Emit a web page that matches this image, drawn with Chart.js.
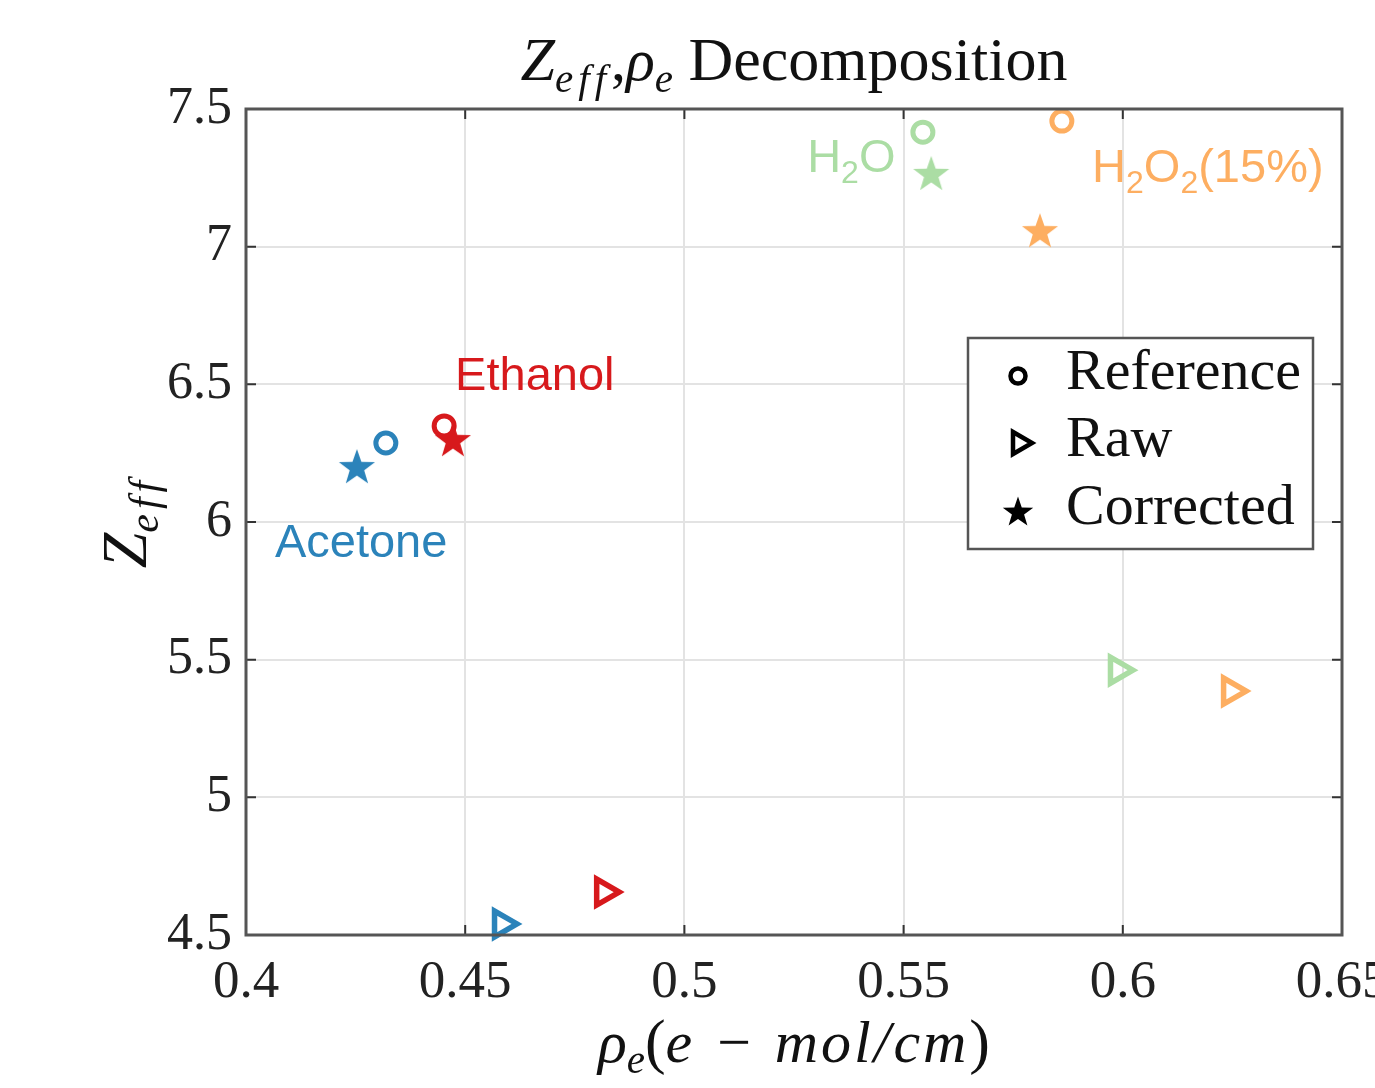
<!DOCTYPE html>
<html>
<head>
<meta charset="utf-8">
<script src="https://cdn.jsdelivr.net/npm/chart.js@4/dist/chart.umd.min.js"></script>
<style>
  html, body { margin: 0; padding: 0; background: #fff; overflow: hidden; }
  #wrap { width: 1375px; height: 1088px; overflow: hidden; }
</style>
</head>
<body>
<div id="wrap"><canvas id="grafico" width="1420" height="1088"></canvas></div>
<script>
// datos
const sustancias = ['Acetone', 'Ethanol', 'H2O', 'H2O2(15%)'];
const colores = ['#2b83ba', '#d7191c', '#abdda4', '#fdae61'];

const refRho = [0.4319, 0.4452, 0.5544, 0.5861];
const refZ   = [6.287, 6.349, 7.416, 7.456];
const rawRho = [0.4584, 0.4817, 0.5989, 0.6247];
const rawZ   = [4.540, 4.656, 5.462, 5.386];
const corRho = [0.4253, 0.4472, 0.5563, 0.5811];
const corZ   = [6.203, 6.301, 7.268, 7.060];

const xTicks = [0.4, 0.45, 0.5, 0.55, 0.6, 0.65];
const yTicks = [4.5, 5, 5.5, 6, 6.5, 7, 7.5];

// etiquetas de texto (posicion en unidades de datos)
const etiquetas = [
  { partes: [['Acetone', 0]], x: 0.4066, y: 5.934, color: colores[0] },
  { partes: [['Ethanol', 0]], x: 0.4477, y: 6.541, color: colores[1] },
  { partes: [['H', 0], ['2', 1], ['O', 0]], x: 0.5280, y: 7.333, color: colores[2] },
  { partes: [['H', 0], ['2', 1], ['O', 0], ['2', 1], ['(15%)', 0]], x: 0.5930, y: 7.297, color: colores[3] }
];

const serif = '"Liberation Serif", "DejaVu Serif", serif';
const sans = '"Liberation Sans", Arial, sans-serif';

function makeStar(color, outer) {
  const c = document.createElement('canvas');
  const s = Math.ceil(outer * 2 + 4);
  c.width = s; c.height = s;
  const g = c.getContext('2d');
  const inner = outer * 0.4;
  g.beginPath();
  for (let i = 0; i < 10; i++) {
    const r = i % 2 === 0 ? outer : inner;
    const a = -Math.PI / 2 + i * Math.PI / 5;
    const px = s / 2 + r * Math.cos(a);
    const py = s / 2 + r * Math.sin(a) + outer * 0.1;
    if (i === 0) g.moveTo(px, py); else g.lineTo(px, py);
  }
  g.closePath();
  g.fillStyle = color;
  g.fill();
  return c;
}
const estrellas = colores.map(c => makeStar(c, 19));
const estrellaNegra = makeStar('#000', 16);

function puntos(xs, ys) {
  return xs.map((x, i) => ({ x: x, y: ys[i] }));
}

// dibuja texto con subindices (parte: [texto, fuente, dy, espaciado])
function dibujarPartes(ctx, partes, x, y, align) {
  let total = 0;
  partes.forEach(p => {
    ctx.font = p[1];
    ctx.letterSpacing = (p[3] || 0) + 'px';
    total += ctx.measureText(p[0]).width;
  });
  let cx = align === 'center' ? x - total / 2 : x;
  ctx.textAlign = 'left';
  ctx.textBaseline = 'alphabetic';
  partes.forEach(p => {
    ctx.font = p[1];
    ctx.letterSpacing = (p[3] || 0) + 'px';
    ctx.fillText(p[0], cx, y + (p[2] || 0));
    cx += ctx.measureText(p[0]).width;
  });
  ctx.letterSpacing = '0px';
}

const extras = {
  id: 'extras',
  afterDraw(chart) {
    const ctx = chart.ctx;
    const a = chart.chartArea;
    const sx = chart.scales.x, sy = chart.scales.y;
    ctx.save();

    // ticks hacia adentro
    ctx.strokeStyle = '#333';
    ctx.lineWidth = 2;
    xTicks.forEach(v => {
      const px = sx.getPixelForValue(v);
      ctx.beginPath();
      ctx.moveTo(px, a.top); ctx.lineTo(px, a.top + 10);
      ctx.moveTo(px, a.bottom); ctx.lineTo(px, a.bottom - 10);
      ctx.stroke();
    });
    yTicks.forEach(v => {
      const py = sy.getPixelForValue(v);
      ctx.beginPath();
      ctx.moveTo(a.left, py); ctx.lineTo(a.left + 10, py);
      ctx.moveTo(a.right, py); ctx.lineTo(a.right - 10, py);
      ctx.stroke();
    });

    // marco
    ctx.strokeStyle = '#555';
    ctx.lineWidth = 3;
    ctx.strokeRect(a.left, a.top, a.right - a.left, a.bottom - a.top);

    // etiquetas de sustancias
    etiquetas.forEach(e => {
      ctx.fillStyle = e.color;
      const partes = e.partes.map(p => p[1] ? [p[0], '32px ' + sans, 11] : [p[0], '47px ' + sans, 0]);
      dibujarPartes(ctx, partes, sx.getPixelForValue(e.x), sy.getPixelForValue(e.y) + 17, 'left');
    });

    // titulo
    ctx.fillStyle = '#111';
    const cxm = (a.left + a.right) / 2;
    dibujarPartes(ctx, [
      ['Z', 'italic 62px ' + serif, 0],
      ['eff', 'italic 41px ' + serif, 12, 5],
      [',', '60px ' + serif, 0],
      ['ρ', 'italic 60px ' + serif, 0],
      ['e', 'italic 41px ' + serif, 12],
      [' Decomposition', '62px ' + serif, 0]
    ], cxm, 80, 'center');

    // titulo eje x
    dibujarPartes(ctx, [
      ['ρ', 'italic 60px ' + serif, 0],
      ['e', 'italic 41px ' + serif, 11],
      ['(', '62px ' + serif, 0],
      ['e − mol/cm', 'italic 60px ' + serif, 0, 3],
      [')', '62px ' + serif, 0]
    ], cxm, 1062, 'center');

    // titulo eje y
    ctx.save();
    ctx.translate(146, (a.top + a.bottom) / 2);
    ctx.rotate(-Math.PI / 2);
    dibujarPartes(ctx, [
      ['Z', 'italic 64px ' + serif, 0],
      ['eff', 'italic 42px ' + serif, 12, 5]
    ], 0, 0, 'center');
    ctx.restore();

    // leyenda
    const lx = 968, ly = 338, lw = 345, lh = 211;
    ctx.fillStyle = '#fff';
    ctx.fillRect(lx, ly, lw, lh);
    ctx.strokeStyle = '#555';
    ctx.lineWidth = 2.5;
    ctx.strokeRect(lx, ly, lw, lh);
    const filas = [['Reference', 374], ['Raw', 441], ['Corrected', 509]];
    ctx.fillStyle = '#111';
    ctx.font = '58px ' + serif;
    ctx.textBaseline = 'middle';
    ctx.textAlign = 'left';
    filas.forEach(f => ctx.fillText(f[0], 1066, f[1]));
    // marcadores
    ctx.strokeStyle = '#000';
    ctx.lineWidth = 4.5;
    ctx.beginPath();
    ctx.arc(1018, 376, 7.5, 0, Math.PI * 2);
    ctx.stroke();
    ctx.beginPath();
    ctx.moveTo(1032, 443); ctx.lineTo(1013, 432); ctx.lineTo(1013, 454); ctx.closePath();
    ctx.stroke();
    ctx.drawImage(estrellaNegra, 1018 - estrellaNegra.width / 2, 511 - estrellaNegra.height / 2);

    ctx.restore();
  }
};

const ctx = document.getElementById('grafico').getContext('2d');

const data = {
  datasets: [
    {
      label: 'Reference',
      data: puntos(refRho, refZ),
      pointStyle: 'circle',
      pointRadius: 10,
      pointBorderWidth: 5,
      pointBackgroundColor: 'rgba(0,0,0,0)',
      pointBorderColor: colores,
      clip: false
    },
    {
      label: 'Raw',
      data: puntos(rawRho, rawZ),
      pointStyle: 'triangle',
      pointRotation: 90,
      pointRadius: 15,
      pointBorderWidth: 5.5,
      pointBackgroundColor: 'rgba(0,0,0,0)',
      pointBorderColor: colores,
      clip: false
    },
    {
      label: 'Corrected',
      data: puntos(corRho, corZ),
      pointStyle: c => estrellas[c.dataIndex],
      pointRadius: 19,
      clip: false
    }
  ]
};

const options = {
  responsive: false,
  animation: false,
  layout: { padding: { top: 109, right: 78, bottom: 0, left: 0 } },
  plugins: {
    legend: { display: false },
    title: { display: false },
    tooltip: { enabled: false }
  },
  scales: {
    x: {
      type: 'linear',
      min: 0.4,
      max: 0.65,
      afterBuildTicks: s => { s.ticks = xTicks.map(v => ({ value: v })); },
      afterFit: s => { s.height = 153; },
      grid: { color: '#e3e3e3', lineWidth: 2, drawTicks: false },
      border: { display: false },
      ticks: {
        color: '#222',
        padding: 16,
        maxRotation: 0,
        autoSkip: false,
        font: { family: serif, size: 53 },
        callback: v => String(+v.toFixed(2))
      }
    },
    y: {
      type: 'linear',
      min: 4.5,
      max: 7.5,
      afterBuildTicks: s => { s.ticks = yTicks.map(v => ({ value: v })); },
      afterFit: s => { s.width = 246; },
      grid: { color: '#e3e3e3', lineWidth: 2, drawTicks: false },
      border: { display: false },
      ticks: {
        color: '#222',
        padding: 14,
        autoSkip: false,
        font: { family: serif, size: 52 },
        callback: v => String(+v.toFixed(1))
      }
    }
  }
};

const grafico = new Chart(ctx, {
  type: 'scatter',
  data: data,
  options: options,
  plugins: [extras]
});
</script>
</body>
</html>
